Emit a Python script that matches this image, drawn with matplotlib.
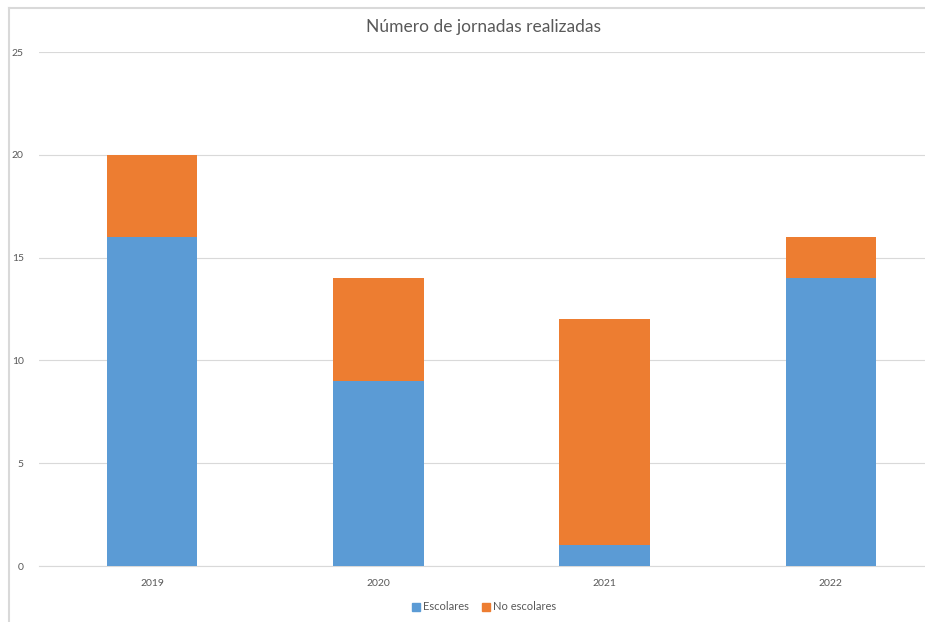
import matplotlib.pyplot as plt
from matplotlib.lines import Line2D
import numpy as np

years = ['2019', '2020', '2021', '2022']
escolares = [16, 9, 1, 14]
no_escolares = [4, 5, 11, 2]

blue = '#5B9BD5'
orange = '#ED7D31'
grey_txt = '#595959'
grid_c = '#D9D9D9'

plt.rcParams['font.family'] = ['Lato', 'DejaVu Sans']

W, H = 925, 622
fig = plt.figure(figsize=(W / 100, H / 100), dpi=100)

# plot area runs past the right edge, like the cropped screenshot
ax = fig.add_axes([39 / W, 56 / H, (944 - 39) / W, (566 - 52) / H])
x = np.arange(len(years))
ax.bar(x, escolares, width=0.4, color=blue, label='Escolares', zorder=3)
ax.bar(x, no_escolares, width=0.4, bottom=escolares, color=orange,
       label='No escolares', zorder=3)

ax.set_xlim(-0.5, len(years) - 0.5)
ax.set_ylim(0, 25)
ax.set_yticks(range(0, 26, 5))
ax.set_xticks(x)
ax.set_xticklabels(years)
ax.yaxis.grid(True, color=grid_c, linewidth=0.8, zorder=0)
for s in ['top', 'right', 'left']:
    ax.spines[s].set_visible(False)
ax.spines['bottom'].set_color(grid_c)
ax.spines['bottom'].set_linewidth(0.8)
ax.tick_params(axis='both', length=0, labelsize=7.5, labelcolor=grey_txt)
ax.tick_params(axis='y', pad=11)
ax.tick_params(axis='x', pad=9)

fig.text(484 / W, 1 - 27 / H, 'Número de jornadas realizadas',
         ha='center', va='center', fontsize=12.5, color=grey_txt)

handles = [plt.Rectangle((0, 0), 1, 1, color=blue),
           plt.Rectangle((0, 0), 1, 1, color=orange)]
fig.legend(handles, ['Escolares', 'No escolares'], loc='center',
           bbox_to_anchor=(484 / W, 1 - 607 / H), ncol=2, frameon=False,
           fontsize=8, labelcolor=grey_txt, handlelength=0.7,
           handleheight=0.7, handletextpad=0.3, columnspacing=1.2)

# chart border (top and left visible)
fig.add_artist(Line2D([9 / W, 1], [1 - 8 / H] * 2, color=grid_c, linewidth=1.5))
fig.add_artist(Line2D([9 / W] * 2, [0, 1 - 8 / H], color=grid_c, linewidth=1.5))

fig.savefig('out.png', dpi=100)
